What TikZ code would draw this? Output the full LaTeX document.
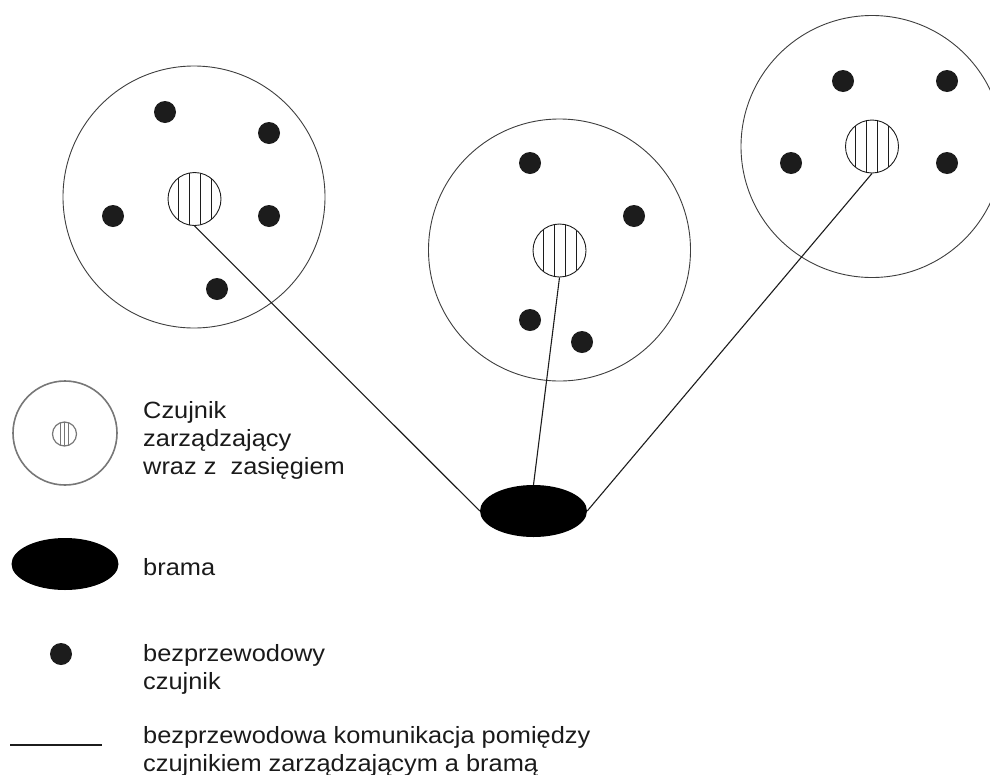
\documentclass[tikz,border=0pt]{standalone}
\usepackage{fontspec}
\setmainfont[FakeStretch=1.08]{Liberation Sans}
\usetikzlibrary{calc,shapes.geometric}
\definecolor{ink}{HTML}{1C1C1C}
\definecolor{txt}{HTML}{1A1A1A}
\begin{document}
\begin{tikzpicture}[x=1pt,y=-1pt,
  rangecirc/.style={circle,draw=ink!85,line width=0.9pt,minimum size=262pt,inner sep=0pt},
  headnode/.style={circle,draw=ink,line width=0.9pt,minimum size=53pt,inner sep=0pt,
    path picture={\foreach \dx in {-16.5,-5.5,5.5,16.5}
      \draw[ink,line width=0.9pt] ($(path picture bounding box.center)+(\dx,-30)$) -- ++(0,60);}},
  sensornode/.style={circle,fill=ink,minimum size=22pt,inner sep=0pt},
  gatenode/.style={ellipse,fill=black,minimum width=107pt,minimum height=52pt,inner sep=0pt},
  linkline/.style={draw=ink,line width=1.1pt},
  lbltext/.style={anchor=base west,inner sep=0pt,text=txt,font=\fontsize{23.5}{28}\selectfont}
]
\useasboundingbox (0,0) rectangle (990,774);
% clusters
\node[rangecirc] (r1) at (194,197) {};
\node[headnode]  (h1) at (194.5,199) {};
\node[sensornode] (s11) at (165,112) {};
\node[sensornode] (s12) at (269,133) {};
\node[sensornode] (s13) at (113,216) {};
\node[sensornode] (s14) at (269,216) {};
\node[sensornode] (s15) at (217,289) {};

\node[rangecirc] (r2) at (559.5,250) {};
\node[headnode]  (h2) at (559.5,250.5) {};
\node[sensornode] (s21) at (530,163) {};
\node[sensornode] (s22) at (634,216) {};
\node[sensornode] (s23) at (530,320) {};
\node[sensornode] (s24) at (582,342) {};

\node[rangecirc] (r3) at (872,146.5) {};
\node[headnode]  (h3) at (872,146.5) {};
\node[sensornode] (s31) at (843,81) {};
\node[sensornode] (s32) at (947,81) {};
\node[sensornode] (s33) at (791,163) {};
\node[sensornode] (s34) at (947,163) {};

% gateway
\node[gatenode] (g) at (533.5,511) {};
\draw[linkline] (h1.south) -- (g.west);
\draw[linkline] (h2.south) -- (g.north);
\draw[linkline] (h3.south) -- (g.east);

% legend
\node[circle,draw=ink!60,line width=1.6pt,minimum size=104pt,inner sep=0pt] (lr) at (65,433) {};
\node[circle,draw=ink!60,line width=1.2pt,minimum size=24pt,inner sep=0pt,
  path picture={\foreach \dx in {-4,0,4}
    \draw[ink!60,line width=1.2pt] ($(path picture bounding box.center)+(\dx,-14)$) -- ++(0,28);}] (lh) at (64.5,434) {};
\node[lbltext] (t1) at (143,418) {Czujnik};
\node[lbltext] (t2) at (143,446) {zarządzający};
\node[lbltext] (t3) at (143,474) {wraz z\ \ zasięgiem};

\node[gatenode] (lg) at (65,564) {};
\node[lbltext] (t4) at (143,575) {brama};

\node[sensornode] (ls) at (61,654) {};
\node[lbltext] (t5) at (143,661) {bezprzewodowy};
\node[lbltext] (t6) at (143,689) {czujnik};

\coordinate (la) at (10,745);
\coordinate (lb) at (102,745);
\draw[linkline] (la) -- (lb);
\node[lbltext] (t7) at (143,743) {bezprzewodowa komunikacja pomiędzy};
\node[lbltext] (t8) at (143,771) {czujnikiem zarządzającym a bramą};
\end{tikzpicture}
\end{document}
